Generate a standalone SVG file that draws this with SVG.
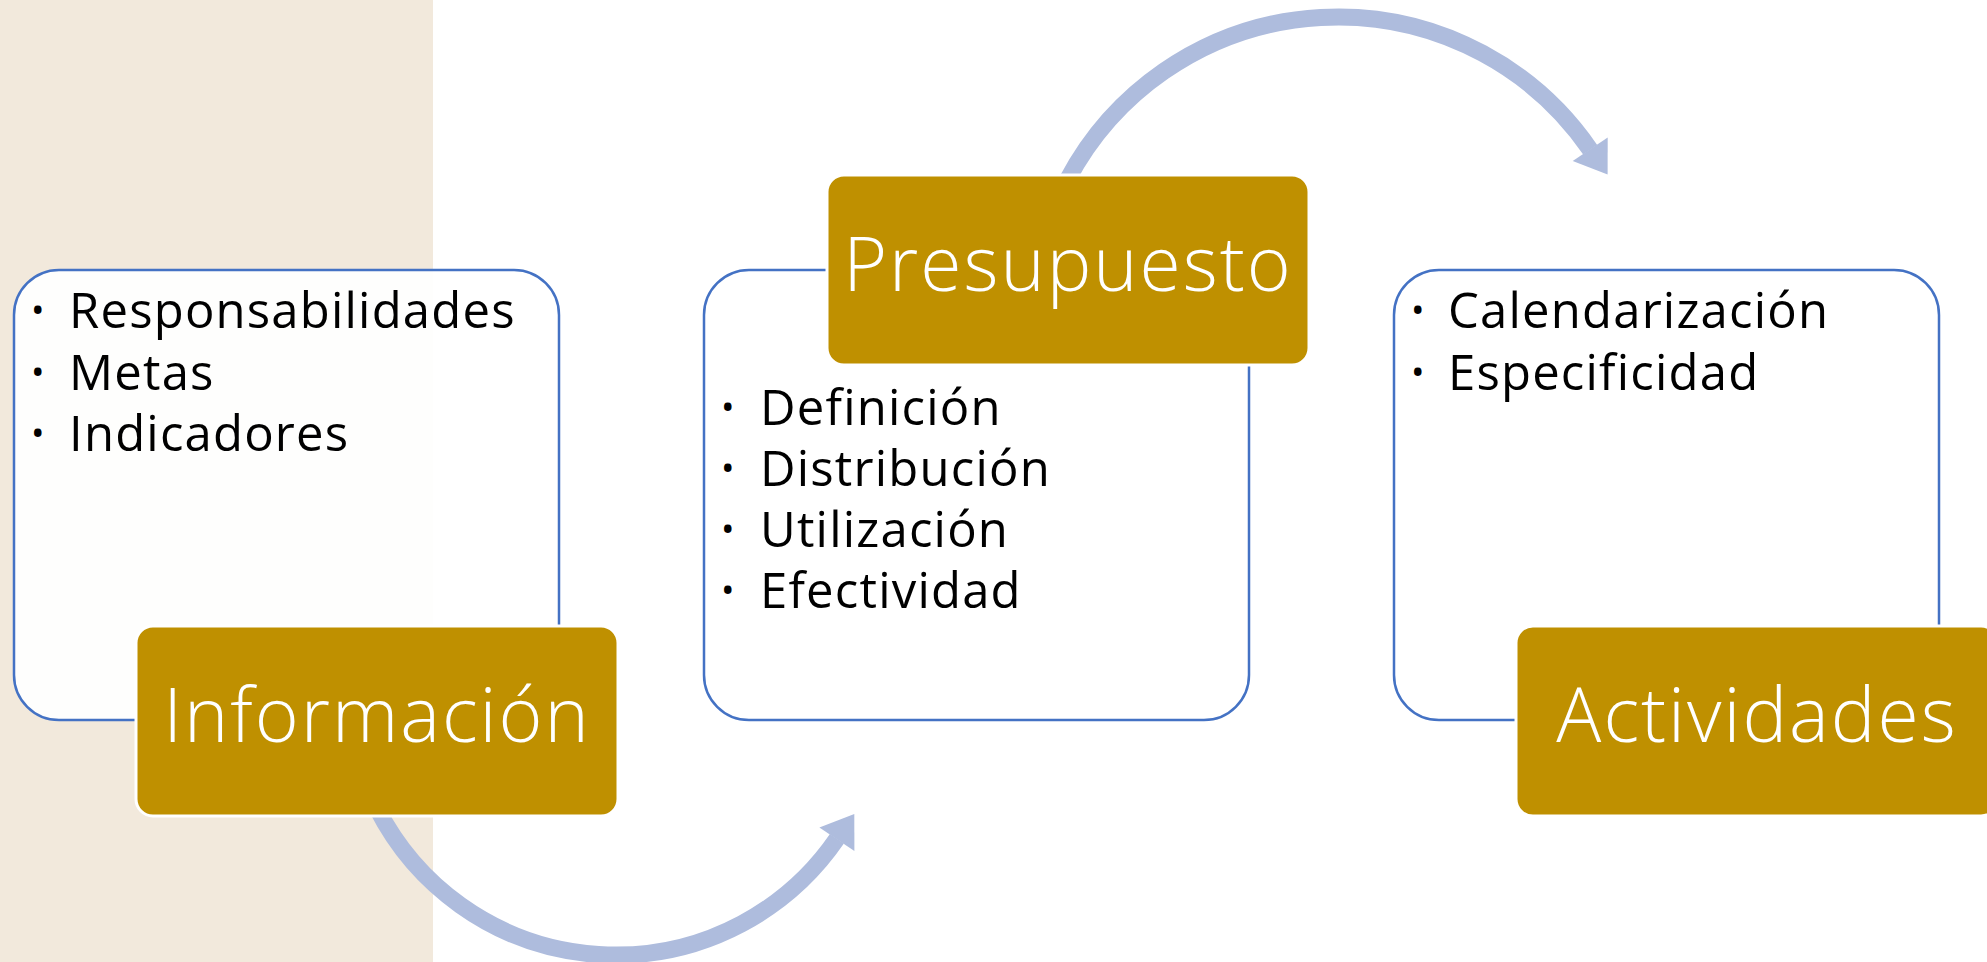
<svg xmlns="http://www.w3.org/2000/svg" width="1987" height="962" viewBox="0 0 1987 962">
  <style>
    .panel { fill: #ffffff; stroke: #4472C4; stroke-width: 2.5; }
    .gold { fill: #BF9000; stroke: #ffffff; stroke-width: 3; }
    .title { font-family: "Open Sans", "Liberation Sans", sans-serif; font-weight: 300; font-size: 75px; fill: #ffffff; text-anchor: middle; letter-spacing: 2px; }
    .item { font-family: "Open Sans", "Liberation Sans", sans-serif; font-size: 49px; fill: #000000; letter-spacing: 1.2px; }
    .dot { font-family: "Open Sans", "Liberation Sans", sans-serif; font-size: 36px; fill: #000000; }
    .arc { fill: none; stroke: #AEBCDD; stroke-width: 17; }
    .head { fill: #AEBCDD; }
  </style>
  <rect x="0" y="0" width="1987" height="962" fill="#ffffff"/>
  <rect x="0" y="0" width="433" height="962" fill="#F2E9DC"/>

  <g id="connectors">
    <path class="arc" d="M 377.2 808.7 A 268 268 0 0 0 836.9 838.8"/>
    <polygon class="head" points="854.3,814.0 854.4,851.1 819.4,827.5"/>
    <path class="arc" d="M 1067.8 179.3 A 306 306 0 0 1 1590.2 149.7"/>
    <polygon class="head" points="1607.6,174.6 1607.7,137.4 1572.7,161.0"/>
  </g>

  <g id="informacion-panel">
    <rect class="panel" x="14" y="270" width="545" height="450" rx="45" fill-opacity="0.92"/>
    <text class="dot" x="31" y="323">•</text>
    <text class="item" x="69" y="328">Responsabilidades</text>
    <text class="dot" x="31" y="385">•</text>
    <text class="item" x="69" y="390">Metas</text>
    <text class="dot" x="31" y="446">•</text>
    <text class="item" x="69" y="451">Indicadores</text>
  </g>
  <g id="informacion">
    <rect class="gold" x="136" y="626" width="482" height="190" rx="17"/>
    <text class="title" x="377" y="742">Información</text>
  </g>

  <g id="presupuesto-panel">
    <rect class="panel" x="704" y="270" width="545" height="450" rx="45"/>
    <text class="dot" x="721" y="420">•</text>
    <text class="item" x="760" y="425">Definición</text>
    <text class="dot" x="721" y="481">•</text>
    <text class="item" x="760" y="486">Distribución</text>
    <text class="dot" x="721" y="542">•</text>
    <text class="item" x="760" y="547">Utilización</text>
    <text class="dot" x="721" y="603">•</text>
    <text class="item" x="760" y="608">Efectividad</text>
  </g>
  <g id="presupuesto">
    <rect class="gold" x="827" y="175" width="482" height="190" rx="17"/>
    <text class="title" x="1068" y="291">Presupuesto</text>
  </g>

  <g id="actividades-panel">
    <rect class="panel" x="1394" y="270" width="545" height="450" rx="45"/>
    <text class="dot" x="1411" y="323">•</text>
    <text class="item" x="1448" y="328">Calendarización</text>
    <text class="dot" x="1411" y="385">•</text>
    <text class="item" x="1448" y="390">Especificidad</text>
  </g>
  <g id="actividades">
    <rect class="gold" x="1516" y="626" width="482" height="190" rx="17"/>
    <text class="title" x="1757" y="742">Actividades</text>
  </g>
</svg>
